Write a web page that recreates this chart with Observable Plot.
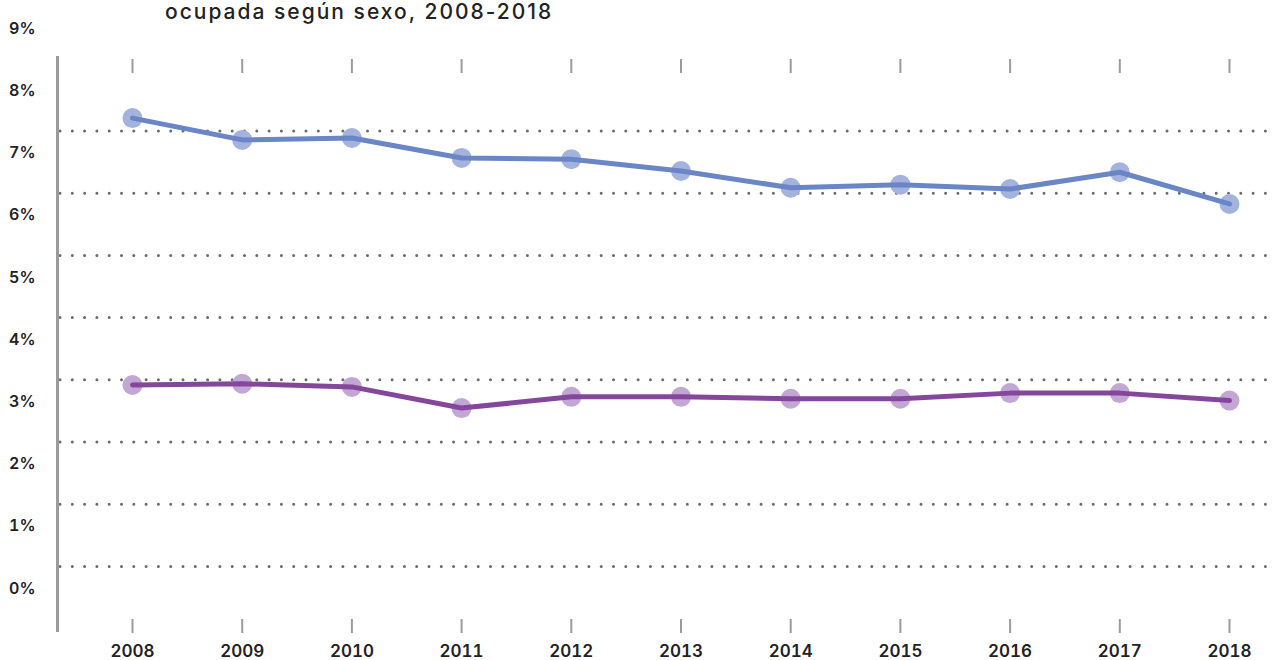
<!DOCTYPE html>
<html>
<head>
<meta charset="utf-8">
<script src="https://cdn.jsdelivr.net/npm/d3@7"></script>
<script src="https://cdn.jsdelivr.net/npm/@observablehq/plot@0.6"></script>
<style>
  html, body { margin: 0; padding: 0; background: #fff; }
  #wrap { position: relative; width: 1272px; height: 660px; overflow: hidden; }
  #title { position: absolute; left: 165px; top: 1px; font-family: Inter, "Open Sans", sans-serif; font-size: 21px; line-height: 21px; font-weight: 500; color: #222; letter-spacing: 2px; white-space: nowrap; }
</style>
</head>
<body>
<div id="wrap">
  <div id="chart"></div>
  <div id="title">ocupada según sexo, 2008-2018</div>
</div>
<script>
const years = [2008, 2009, 2010, 2011, 2012, 2013, 2014, 2015, 2016, 2017, 2018];
const hombres = [7.56, 7.21, 7.24, 6.92, 6.90, 6.71, 6.44, 6.49, 6.42, 6.69, 6.18];
const mujeres = [3.27, 3.29, 3.24, 2.90, 3.08, 3.08, 3.05, 3.05, 3.14, 3.14, 3.02];
const yTicks = [0, 1, 2, 3, 4, 5, 6, 7, 8, 9];
const gridValues = [0, 1, 2, 3, 4, 5, 6, 7];

const menData = years.map((year, i) => ({year, value: hombres[i]}));
const womenData = years.map((year, i) => ({year, value: mujeres[i]}));

const chart = Plot.plot({
  width: 1272,
  height: 660,
  marginLeft: 57,
  marginRight: 4,
  marginTop: 57,
  marginBottom: 30,
  style: {fontFamily: "Inter, 'Open Sans', sans-serif", fontSize: "16px", fontWeight: 600, color: "#222", background: "#fff"},
  x: {type: "linear", domain: [2008, 2018], range: [132, 1229], axis: null},
  y: {domain: [0, 9], range: [588, 28], axis: null},
  marks: [
    Plot.ruleY(gridValues, {dy: -22, insetLeft: 3, stroke: "#6b6b6b", strokeWidth: 3, strokeDasharray: "0,12.3", strokeLinecap: "round"}),
    Plot.frame({anchor: "left", stroke: "#9b9b9b", strokeWidth: 3}),
    Plot.tickX(years, {x: d => d, insetTop: 2, insetBottom: 557, stroke: "#9b9b9b", strokeWidth: 2}),
    Plot.tickX(years, {x: d => d, insetTop: 562, insetBottom: -3, stroke: "#9b9b9b", strokeWidth: 2}),
    Plot.axisY(yTicks, {tickSize: 0, tickPadding: 22, tickFormat: d => d + "%", fontSize: 16, fontWeight: 600, fill: "#222", label: null}),
    Plot.axisX(years, {anchor: "bottom", tickSize: 0, tickPadding: 14, tickFormat: d => String(d), fontSize: 17, fontWeight: 600, fill: "#222", label: null}),
    Plot.dot(menData, {x: "year", y: "value", r: 10, fill: "#a3b3dd"}),
    Plot.dot(womenData, {x: "year", y: "value", r: 10, fill: "#c2a6d4"}),
    Plot.line(menData, {x: "year", y: "value", stroke: "#6a86c6", strokeWidth: 5}),
    Plot.line(womenData, {x: "year", y: "value", stroke: "#85479c", strokeWidth: 5})
  ]
});
document.getElementById("chart").appendChild(chart);
</script>
</body>
</html>
